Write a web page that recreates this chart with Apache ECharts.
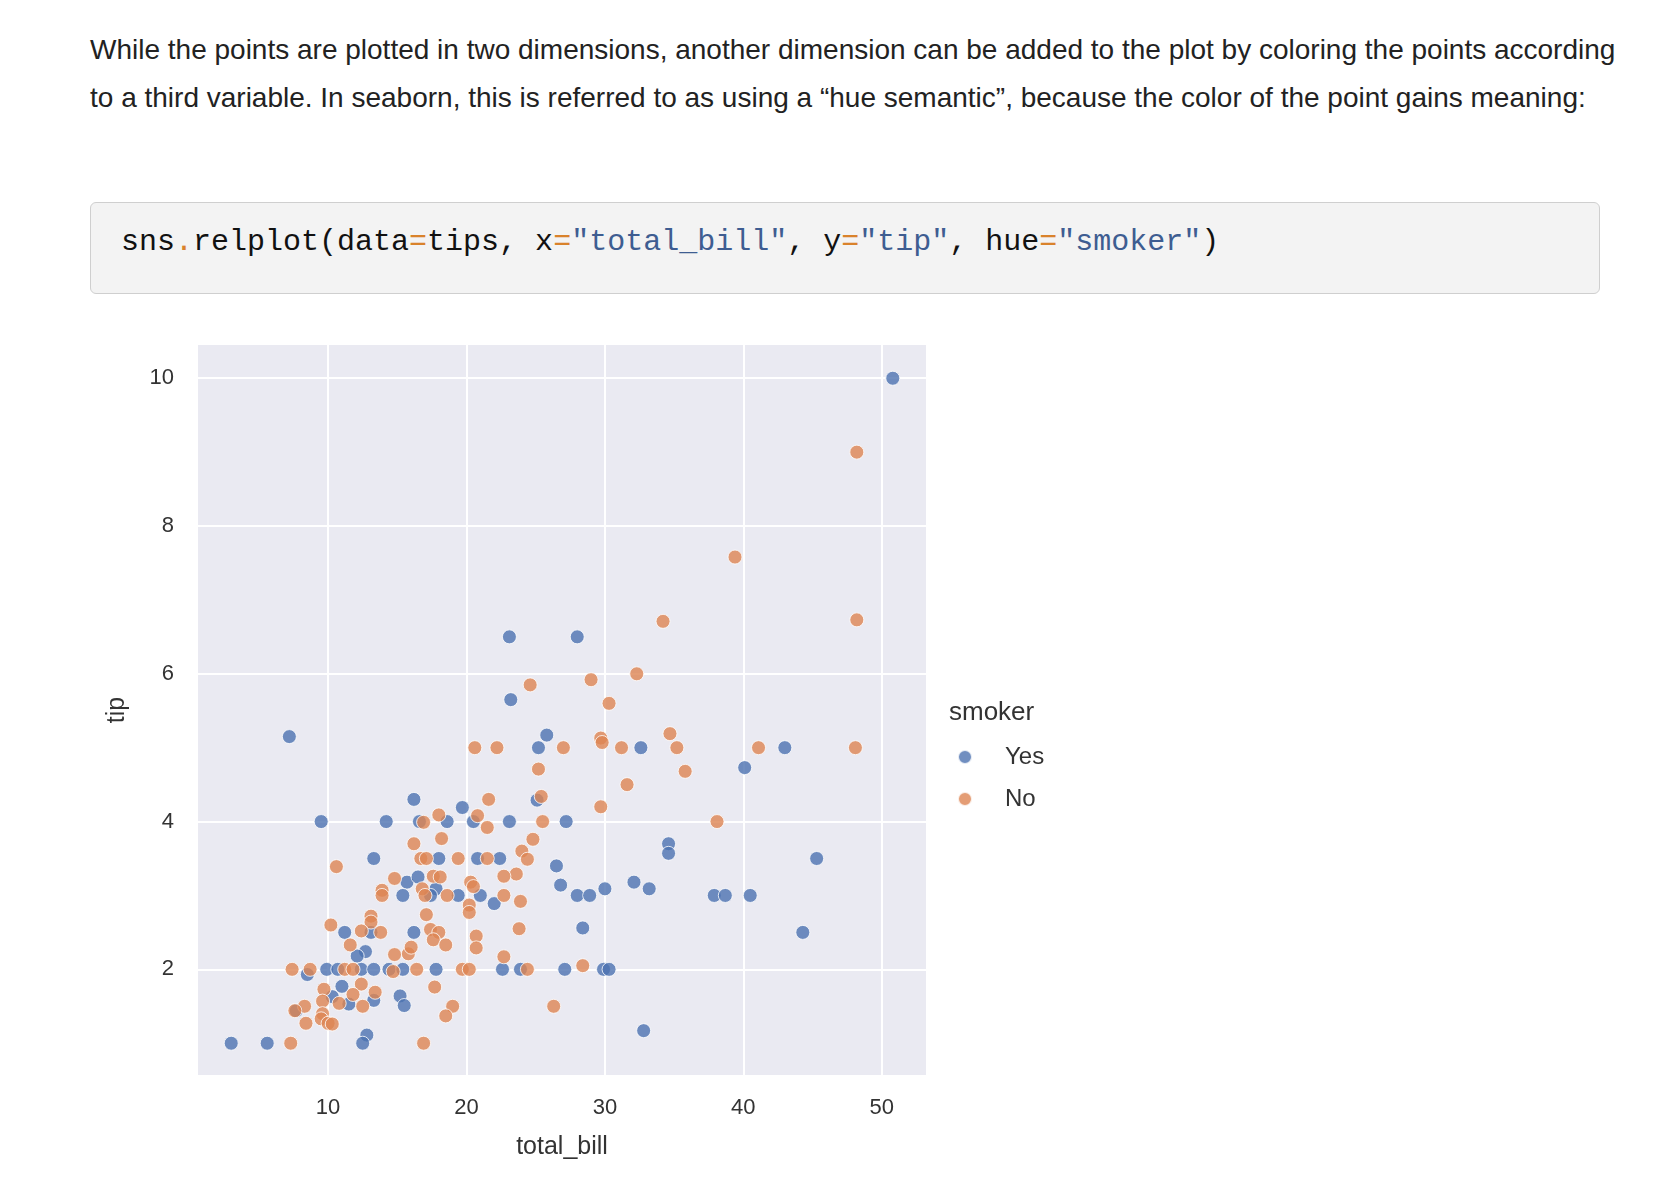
<!DOCTYPE html>
<html><head><meta charset="utf-8">
<script src="https://cdn.jsdelivr.net/npm/echarts@6/dist/echarts.min.js"></script>
<style>
body{margin:0;background:#fff;width:1658px;height:1184px;position:relative;overflow:hidden;font-family:"Liberation Sans",Arial,sans-serif;}
#txt{position:absolute;left:90px;top:26px;width:1540px;font-size:28px;line-height:47.5px;color:#222;}
#code{position:absolute;left:90px;top:202px;width:1510px;height:92px;background:#f3f3f3;border:1.5px solid #cfcfcf;border-radius:6px;box-sizing:border-box;}
#code pre{margin:0;position:absolute;left:30px;top:22px;font-family:"Liberation Mono","DejaVu Sans Mono",monospace;font-size:30px;color:#111;}
.o{color:#d9822b}.s{color:#3e5d91}
#chart{position:absolute;left:0;top:0;width:1658px;height:1184px;}
</style></head><body>
<div id="txt">While the points are plotted in two dimensions, another dimension can be added to the plot by coloring the points according to a third variable. In seaborn, this is referred to as using a “hue semantic”, because the color of the point gains meaning:</div>
<div id="code"><pre>sns<span class="o">.</span>relplot(data<span class="o">=</span>tips, x<span class="o">=</span><span class="s">"total_bill"</span>, y<span class="o">=</span><span class="s">"tip"</span>, hue<span class="o">=</span><span class="s">"smoker"</span>)</pre></div>
<div id="chart"></div>
<script>
const xTicks=[10,20,30,40,50];
const yTicks=[2,4,6,8,10];
const smokerYes=[[50.8,10],[23.1,6.5],[28.0,6.5],[23.2,5.65],[7.2,5.15],[25.8,5.17],[25.2,5.0],[32.6,5.0],[43.0,5.0],[40.1,4.73],[16.2,4.3],[25.1,4.29],[19.7,4.19],[9.5,4.0],[14.2,4.0],[16.6,4.0],[18.6,4.0],[20.5,4.0],[23.1,4.0],[27.2,4.0],[34.6,3.7],[34.6,3.57],[13.3,3.5],[18.0,3.5],[20.8,3.5],[22.4,3.5],[45.3,3.5],[26.5,3.4],[15.7,3.18],[16.5,3.25],[17.8,3.09],[26.8,3.14],[32.1,3.18],[33.2,3.09],[30.0,3.09],[15.4,3.0],[17.4,3.0],[19.4,3.0],[21.0,3.0],[28.0,3.0],[28.9,3.0],[37.9,3.0],[38.7,3.0],[40.5,3.0],[22.0,2.89],[11.2,2.5],[13.1,2.5],[16.2,2.5],[28.4,2.56],[44.3,2.5],[12.7,2.24],[12.1,2.18],[9.9,2.0],[10.7,2.0],[12.4,2.0],[13.3,2.0],[14.4,2.0],[15.4,2.0],[17.8,2.0],[22.6,2.0],[23.9,2.0],[27.1,2.0],[29.9,2.0],[30.3,2.0],[8.5,1.93],[11.0,1.77],[10.3,1.63],[11.5,1.53],[13.3,1.58],[15.2,1.64],[15.5,1.51],[7.7,1.44],[12.8,1.11],[3.0,1.0],[5.6,1.0],[12.5,1.0],[32.8,1.17]];
const smokerNo=[[48.2,9.0],[39.4,7.58],[48.2,6.73],[34.2,6.71],[32.3,6.0],[29.0,5.92],[24.6,5.85],[30.3,5.6],[34.7,5.19],[29.7,5.13],[29.8,5.07],[20.6,5.0],[22.2,5.0],[27.0,5.0],[31.2,5.0],[35.2,5.0],[41.1,5.0],[48.1,5.0],[25.2,4.71],[35.8,4.68],[31.6,4.5],[25.4,4.34],[21.6,4.3],[29.7,4.2],[20.8,4.08],[18.0,4.09],[16.9,3.99],[25.5,4.0],[38.1,4.0],[21.5,3.92],[16.2,3.7],[18.2,3.77],[24.8,3.76],[24.0,3.6],[24.4,3.49],[19.4,3.5],[16.7,3.5],[21.5,3.5],[17.1,3.5],[10.6,3.39],[23.6,3.29],[22.7,3.26],[14.8,3.23],[17.6,3.26],[18.1,3.25],[20.3,3.18],[13.9,3.07],[16.8,3.09],[20.5,3.12],[13.9,3.0],[17.0,3.0],[18.6,3.0],[22.7,3.0],[23.9,2.92],[20.2,2.87],[20.2,2.77],[17.1,2.74],[13.1,2.72],[13.1,2.64],[10.2,2.6],[17.4,2.54],[12.4,2.52],[13.8,2.5],[18.0,2.5],[23.8,2.55],[20.7,2.45],[17.6,2.4],[11.6,2.33],[18.5,2.33],[20.7,2.29],[22.7,2.17],[14.8,2.2],[15.8,2.21],[16.0,2.3],[7.4,2.0],[8.7,2.0],[11.2,2.0],[11.8,2.0],[16.4,2.0],[19.7,2.0],[20.2,2.0],[24.4,2.0],[28.4,2.05],[14.7,1.97],[9.7,1.73],[12.4,1.8],[17.7,1.76],[11.8,1.66],[13.4,1.69],[9.6,1.57],[10.8,1.54],[8.3,1.5],[12.5,1.5],[19.0,1.5],[26.3,1.5],[9.6,1.4],[9.5,1.33],[8.4,1.27],[10.0,1.27],[10.3,1.26],[18.5,1.37],[7.3,1.0],[16.9,1.0],[7.6,1.44]];
const chart=echarts.init(document.getElementById('chart'));
const lab={color:'#333',fontSize:22,fontFamily:'Liberation Sans, Arial'};
chart.setOption({
  animation:false,
  grid:{left:198,top:345,width:728,height:730,backgroundColor:'#eaeaf2',show:true,borderWidth:0},
  xAxis:{type:'value',min:0.6,max:53.2,name:'total_bill',nameLocation:'middle',nameGap:60,
    nameTextStyle:{color:'#333',fontSize:25,fontFamily:'Liberation Sans, Arial'},
    axisLine:{show:false},axisTick:{show:false,customValues:xTicks},
    axisLabel:Object.assign({customValues:xTicks,margin:22},lab),
    splitLine:{show:true,lineStyle:{color:'#fff',width:2}}},
  yAxis:{type:'value',min:0.57,max:10.45,name:'tip',nameLocation:'middle',nameGap:68,
    nameTextStyle:{color:'#333',fontSize:25,fontFamily:'Liberation Sans, Arial'},
    axisLine:{show:false},axisTick:{show:false,customValues:yTicks},
    axisLabel:Object.assign({customValues:yTicks,margin:24},lab),
    splitLine:{show:true,lineStyle:{color:'#fff',width:2}}},
  legend:{orient:'vertical',left:957,top:745,padding:0,itemGap:18,itemWidth:14,itemHeight:14,icon:'circle',
    textStyle:{color:'#333',fontSize:24,fontFamily:'Liberation Sans, Arial',padding:[0,0,0,28]},data:['Yes','No']},
  graphic:[{type:'text',left:949,top:700,style:{text:'smoker',fontSize:26,fill:'#333',fontFamily:'Liberation Sans, Arial'}}],
  series:[
    {name:'Yes',type:'scatter',data:smokerYes,symbolSize:14,itemStyle:{color:'#4c72b0',borderColor:'#fff',borderWidth:1}},
    {name:'No',type:'scatter',data:smokerNo,symbolSize:14,itemStyle:{color:'#dd8452',borderColor:'#fff',borderWidth:1}}
  ]
});
</script></body></html>
